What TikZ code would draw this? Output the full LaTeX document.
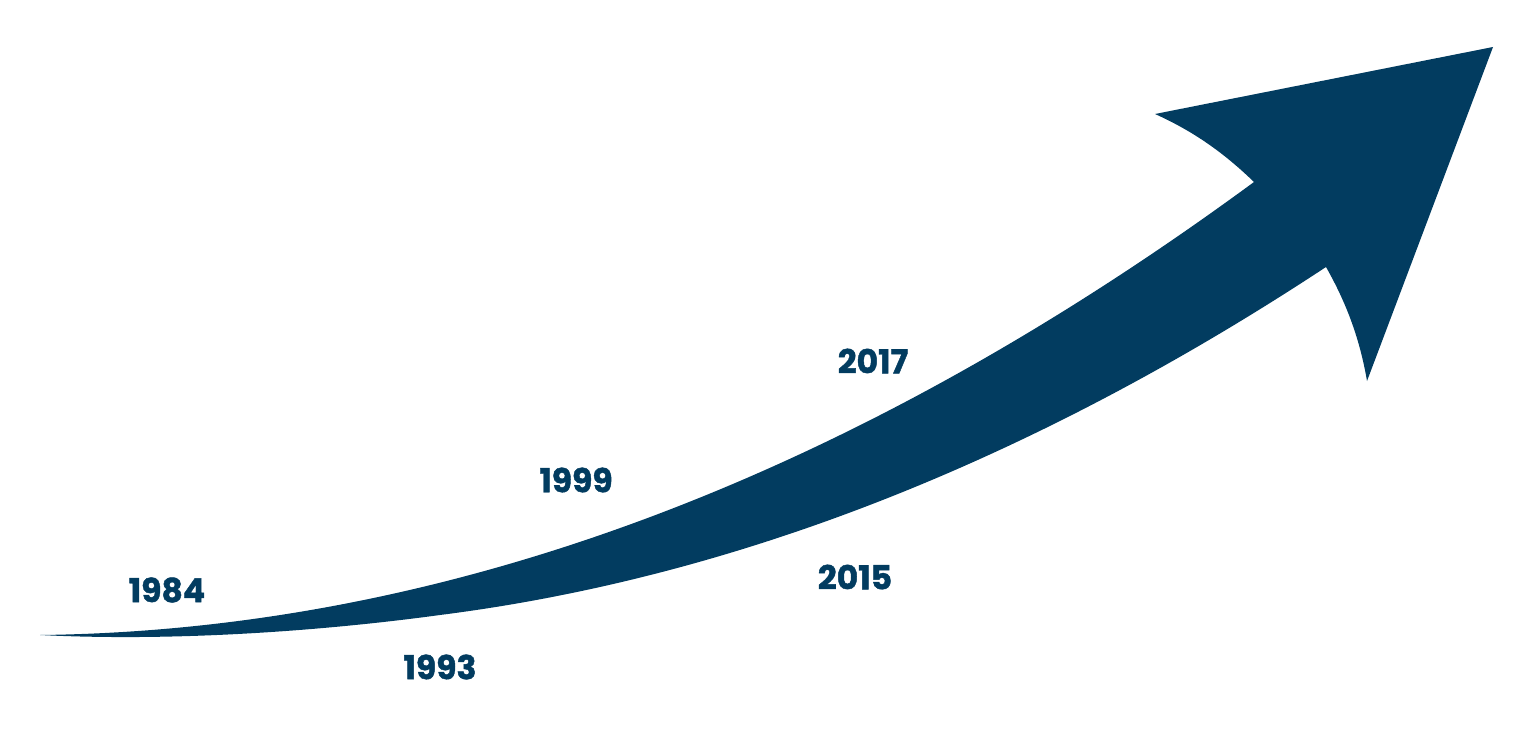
\documentclass[tikz,border=0pt]{standalone}
\usepackage{fontspec}
\newfontfamily\yearfont{Poppins}[BoldFeatures={FakeBold=1.3}]
\definecolor{navy}{RGB}{2,60,96}
\begin{document}
\begin{tikzpicture}[x=0.5pt,y=-0.5pt,
  year/.style={text=navy,font=\yearfont\fontsize{16.5}{18}\selectfont\bfseries,inner sep=0pt,anchor=center}]
\useasboundingbox (0,0) rectangle (1536,754);
\fill[navy]
  (40,635) .. controls (444.7,630.3) and (849.3,479.3) .. (1254,182)
  .. controls (1225,154) and (1195,132) .. (1155,114)
  -- (1493,47) -- (1367,381)
  .. controls (1360,340) and (1347,304) .. (1326,267)
  .. controls (1030.7,461.5) and (735.3,577.5) .. (440,615)
  .. controls (330,630) and (180,642) .. (40,635)
  -- cycle;
\node[year] (y1984) at (167,590) {1984};
\node[year] (y1993) at (440,667) {1993};
\node[year] (y1999) at (576,480) {1999};
\node[year] (y2015) at (855,577) {2015};
\node[year] (y2017) at (873,361) {2017};
\end{tikzpicture}
\end{document}
